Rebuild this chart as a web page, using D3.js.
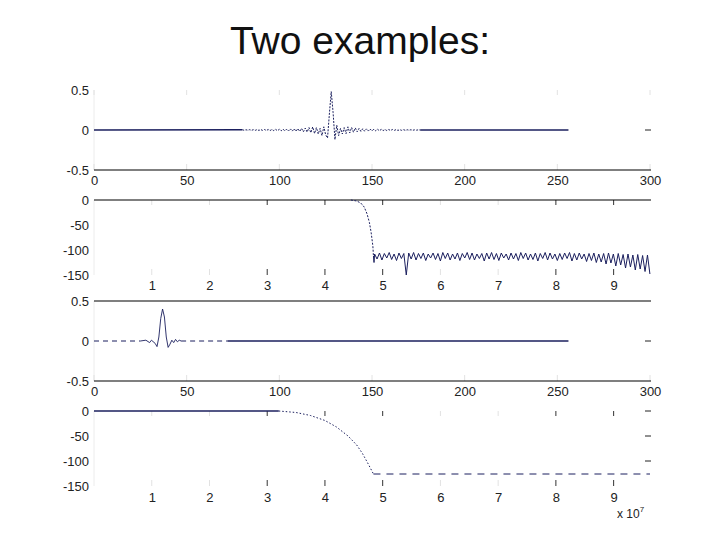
<!DOCTYPE html>
<html>
<head>
<meta charset="utf-8">
<script src="https://cdn.jsdelivr.net/npm/d3@7"></script>
<style>
  body { margin: 0; background: #fff; }
  svg { display: block; }
  .tick text { font-family: "Liberation Sans", Arial, sans-serif; font-size: 13px; fill: #222; }
</style>
</head>
<body>
<svg id="fig"></svg>
<script>
// ---- data ----
var titleText = "Two examples:";
var timeTicks = [0, 50, 100, 150, 200, 250, 300];
var ampTicks = [0.5, 0, -0.5];
var freqTicks = [1, 2, 3, 4, 5, 6, 7, 8, 9];
var dbTicks = [0, -50, -100, -150];

// example 1, impulse response (sample index, amplitude)
var imp1Start = 80;
var imp1Values = [
  0.003, -0.003, 0.003, -0.003, 0.004, -0.004, 0.004, -0.004, 0.005, -0.005,
  0.005, -0.005, 0.006, -0.006, 0.006, -0.007, 0.007, -0.008, 0.008, -0.009,
  0.009, -0.01, 0.01, -0.011, 0.012, -0.012, 0.013, -0.014, 0.015, -0.016,
  0.017, -0.018, 0.02, -0.022, 0.024, -0.026, 0.03, -0.034, 0.038, -0.044,
  0.03, -0.05, 0.02, -0.07, 0.04, -0.06, -0.1, 0.2, 0.48, 0.22,
  -0.12, 0.06, -0.07, 0.02, -0.05, 0.03, -0.045,
  0.04, -0.036, 0.032, -0.028, 0.026, -0.022, 0.02, -0.018, 0.016, -0.015,
  0.014, -0.013, 0.012, -0.011, 0.01, -0.01, 0.009, -0.009, 0.008, -0.008,
  0.007, -0.007, 0.006, -0.006, 0.006, -0.005, 0.005, -0.005, 0.004, -0.004,
  0.004, -0.004, 0.003, -0.003, 0.003, -0.003, 0.002, -0.002, 0.002, 0
];
var imp1Len = 256;

// example 1, magnitude response in dB (x in units of 1e7)
var resp1Pass = [[0, 0], [4.45, 0], [4.55, -2], [4.62, -6], [4.68, -14], [4.73, -28],
  [4.77, -45], [4.8, -65], [4.83, -92], [4.84, -112], [4.85, -125]];
var resp1StopStart = 4.86, resp1StopStep = 0.0422;
var resp1Stop = [
  -108, -118, -106, -120, -107, -116, -105, -119, -108, -121, -106, -117, -107, -150, -106,
  -118, -105, -120, -107, -117, -106, -121, -108, -116, -106, -119, -107, -122, -105, -117,
  -106, -120, -108, -118, -106, -121, -107, -116, -105, -119, -106, -120, -108, -117, -107,
  -122, -106, -118, -105, -119, -107, -121, -106, -116, -108, -120, -106, -118, -107, -121,
  -105, -117, -106, -120, -108, -119, -106, -122, -107, -117, -105, -120, -106, -118, -108,
  -121, -107, -119, -106, -117, -105, -122, -107, -120, -106, -118, -108, -123, -107, -121,
  -106, -125, -108, -124, -107, -128, -106, -126, -108, -132, -107, -130, -109, -136, -108,
  -134, -110, -140, -109, -138, -111, -143, -110, -148
];

// example 2, impulse response (sample index, amplitude)
var imp2Points = [[0, 0], [25, 0], [28, 0.01], [30, -0.02], [31, 0.01], [33, -0.03], [34, -0.07],
  [35, 0.05], [36, 0.28], [37, 0.4], [38, 0.3], [39, 0.05], [40, -0.08], [41, -0.04], [42, 0.01],
  [43, -0.02], [44, 0.02], [45, -0.01], [46, 0.01], [47, 0], [50, 0], [72, 0], [256, 0]];

// example 2, magnitude response in dB
var resp2Points = [[0, 0], [3.2, 0], [3.5, -3], [3.75, -9], [4.0, -19], [4.2, -32], [4.4, -50],
  [4.55, -68], [4.65, -85], [4.75, -106], [4.84, -126], [9.63, -126]];

var freqMax = 9.63;

// ---- drawing ----
var width = 720, height = 540;
var svg = d3.select("#fig").attr("width", width).attr("height", height);
var lineColor = "#1b1f5e";
var left = 94, right = 650;

svg.append("text")
  .attr("x", 360).attr("y", 54)
  .attr("text-anchor", "middle")
  .attr("font-family", "Liberation Sans, Arial, sans-serif")
  .attr("font-size", 39)
  .attr("fill", "#111")
  .text(titleText);

function piece(points, a, b) {
  return points.filter(function (p) { return p[0] >= a && p[0] <= b; });
}

function panel(cfg) {
  var x = d3.scaleLinear().domain(cfg.xDomain).range([left, right]);
  var y = d3.scaleLinear().domain(cfg.yDomain).range([cfg.bottom, cfg.top]);
  var g = svg.append("g");

  // faint left axis
  g.append("line").attr("x1", left).attr("x2", left)
    .attr("y1", cfg.top).attr("y2", cfg.bottom)
    .attr("stroke", "#ececec");

  // faint inner ticks, darker where the picture shows them
  cfg.xTicks.forEach(function (t) {
    var dark = cfg.darkTicks.indexOf(t) >= 0;
    [cfg.top, cfg.bottom].forEach(function (yy, k) {
      if (k === 0 && !cfg.topTicks) return;
      g.append("line")
        .attr("x1", x(t)).attr("x2", x(t))
        .attr("y1", yy).attr("y2", k === 0 ? yy + 5 : yy - 6)
        .attr("stroke", dark ? "#333" : "#e2e2e2");
    });
  });

  // axis lines
  cfg.frame.forEach(function (v) {
    g.append("line").attr("x1", left).attr("x2", right + 1)
      .attr("y1", y(v)).attr("y2", y(v))
      .attr("stroke", "#000").attr("stroke-width", 1.2);
  });

  // right side ticks
  cfg.rightTicks.forEach(function (v) {
    g.append("line").attr("x1", right - 5).attr("x2", right + 1)
      .attr("y1", y(v)).attr("y2", y(v))
      .attr("stroke", "#222");
  });

  g.append("g")
    .attr("transform", "translate(" + left + ",0)")
    .call(d3.axisLeft(y).tickValues(cfg.yTicks).tickSize(0).tickPadding(5)
      .tickFormat(function (d) { return String(d); }))
    .call(function (a) { a.select(".domain").remove(); });

  g.append("g")
    .attr("transform", "translate(0," + cfg.bottom + ")")
    .call(d3.axisBottom(x).tickValues(cfg.xLabels).tickSize(0).tickPadding(cfg.pad)
      .tickFormat(function (d) { return String(d); }))
    .call(function (a) { a.select(".domain").remove(); });

  var line = d3.line().x(function (d) { return x(d[0]); }).y(function (d) { return y(d[1]); });
  cfg.segs.forEach(function (s) {
    g.append("path")
      .datum(piece(cfg.points, s[0], s[1]))
      .attr("d", line)
      .attr("fill", "none")
      .attr("stroke", lineColor)
      .attr("stroke-width", s[3] || 1)
      .attr("stroke-dasharray", s[2]);
  });
}

// example 1 time series points
var imp1Points = [[0, 0]].concat(imp1Values.map(function (v, i) { return [imp1Start + i, v]; }));
imp1Points.push([imp1Len, 0]);
var resp1Points = resp1Pass.concat(resp1Stop.map(function (v, i) {
  return [resp1StopStart + i * resp1StopStep, v];
}));

panel({
  top: 90, bottom: 170, xDomain: [0, 300], yDomain: [-0.5, 0.5],
  xTicks: timeTicks, xLabels: timeTicks, darkTicks: [], topTicks: true, pad: 6,
  yTicks: ampTicks, frame: [-0.5], rightTicks: [0],
  points: imp1Points,
  segs: [[0, 80, null, 1.3], [80, 176, "2,1.3", 1], [176, 256, null, 1.3]]
});

panel({
  top: 200, bottom: 275, xDomain: [0, freqMax], yDomain: [-150, 0],
  xTicks: freqTicks, xLabels: freqTicks, darkTicks: [3, 4, 5, 8, 9], topTicks: true, pad: 6,
  yTicks: dbTicks, frame: [0], rightTicks: [],
  points: resp1Points,
  segs: [[4.4, 4.84, "2,1.5", 1], [4.84, 10, null, 1]]
});

panel({
  top: 301, bottom: 381, xDomain: [0, 300], yDomain: [-0.5, 0.5],
  xTicks: timeTicks, xLabels: timeTicks, darkTicks: [], topTicks: false, pad: 6,
  yTicks: ampTicks, frame: [0.5, -0.5], rightTicks: [0],
  points: imp2Points,
  segs: [[0, 25, "5,4", 1], [25, 47, null, 0.9], [47, 72, "5,4", 1], [72, 256, null, 1.3]]
});

panel({
  top: 411, bottom: 486, xDomain: [0, freqMax], yDomain: [-150, 0],
  xTicks: freqTicks, xLabels: freqTicks, darkTicks: [3, 4, 5, 8, 9], topTicks: true, pad: 7,
  yTicks: dbTicks, frame: [], rightTicks: [0, -50, -100],
  points: resp2Points,
  segs: [[0, 3.2, null, 1.4], [3.2, 4.84, "1.5,2", 1], [4.84, 10, "7,6", 1]]
});

// exponent label
var ex = svg.append("text")
  .attr("x", 617).attr("y", 518)
  .attr("font-family", "Liberation Sans, Arial, sans-serif")
  .attr("font-size", 12).attr("fill", "#222");
ex.append("tspan").text("x 10");
ex.append("tspan").attr("dy", -6).attr("font-size", 8).text("7");
</script>
</body>
</html>
